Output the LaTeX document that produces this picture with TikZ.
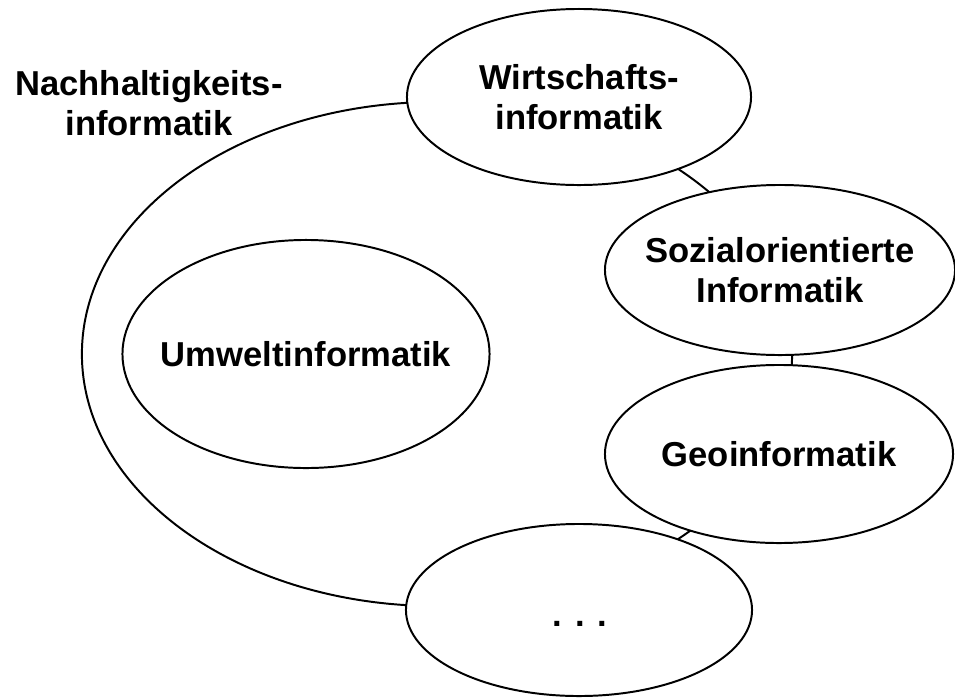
\documentclass[tikz,border=0pt]{standalone}
\usepackage{fontspec}
\setmainfont{Liberation Sans}
\usetikzlibrary{shapes.geometric}

\begin{document}
\begin{tikzpicture}[
    x=0.025cm, y=-0.025cm,
    area/.style={draw,ellipse,line width=1.4pt,inner sep=0pt},
    field/.style={area,fill=white},
    txt/.style={font=\bfseries\fontsize{24.6}{28.5}\selectfont,align=center,inner sep=0pt},
]
\useasboundingbox (0,0) rectangle (955,699);

% outer area
\node[area,minimum width=17.75cm,minimum height=12.6cm] (nachh) at (437,354) {};
\node[txt] (nachhtxt) at (149,103) {Nachhaltigkeits-\\informatik};

% fields on the rim
\node[field,minimum width=8.6cm,minimum height=4.4cm]  (wirt)   at (579,97)  {};
\node[field,minimum width=8.75cm,minimum height=4.25cm] (sozial) at (780,270) {};
\node[field,minimum width=8.7cm,minimum height=4.45cm] (geo)    at (779,454) {};
\node[field,minimum width=8.65cm,minimum height=4.3cm] (mehr)   at (579,610) {};

% inner field
\node[field,minimum width=9.175cm,minimum height=5.7cm] (umwelt) at (306,354) {};

\node[txt] (wirttxt)   at (wirt)   {Wirtschafts-\\informatik};
\node[txt] (sozialtxt) at (sozial) {Sozialorientierte\\Informatik};
\node[txt] (geotxt)    at (geo)    {Geoinformatik};
\node[txt,anchor=base] (mehrtxt) at (580,626) {. . .};
\node[txt] (umwelttxt) at (umwelt) {Umweltinformatik};
\end{tikzpicture}
\end{document}
